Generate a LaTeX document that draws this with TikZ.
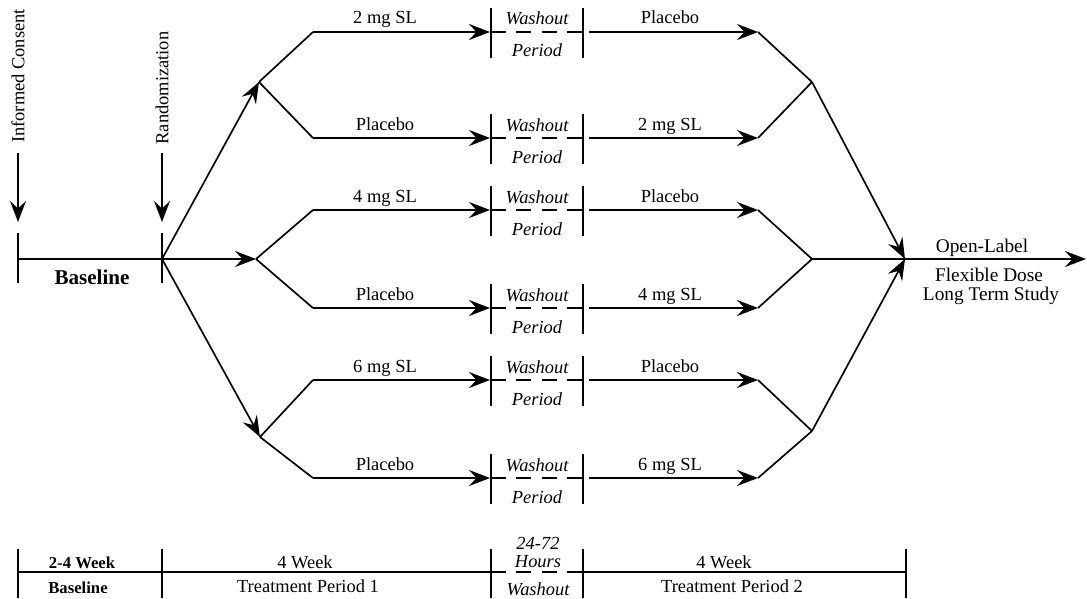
\documentclass[tikz,border=0pt]{standalone}
\usepackage{fontspec}
\setmainfont{Liberation Serif}
\usetikzlibrary{arrows.meta}

\tikzset{
  arr/.style={-{Stealth[length=4.2mm,width=3.2mm,inset=1.5mm]}},
  txt/.style={font=\fontsize{10.5}{12}\selectfont,inner sep=0pt,anchor=base},
  itxt/.style={txt,font=\fontsize{10.5}{12}\selectfont\itshape},
  btxt/.style={txt,font=\fontsize{9.5}{11}\selectfont\bfseries},
  dsh/.style={dash pattern=on 8.5pt off 6pt},
}

\begin{document}
\begin{tikzpicture}[x=0.02cm,y=-0.02cm,line width=0.95pt]
\useasboundingbox (0,0) rectangle (1087,598);

% consent and randomization markers
\node[font=\fontsize{10.5}{12}\selectfont,rotate=90,inner sep=0pt] (IC) at (18,76) {Informed Consent};
\node[font=\fontsize{10.5}{12}\selectfont,rotate=90,inner sep=0pt] (RD) at (162,88) {Randomization};
\coordinate (ICa) at (18,153);
\coordinate (ICb) at (18,222);
\coordinate (RDa) at (162,153);
\coordinate (RDb) at (162,222);
\draw[arr] (ICa) -- (ICb);
\draw[arr] (RDa) -- (RDb);

% baseline
\coordinate (S) at (18,259);
\coordinate (R) at (162,259);
\draw (18,233) -- (18,283);
\draw (162,233) -- (162,283);
\draw (S) -- (R);
\node[txt,font=\fontsize{12}{14}\selectfont\bfseries] (BL) at (92,284) {Baseline};

% randomization branches
\coordinate (B1) at (259,82);
\coordinate (B2) at (256,259);
\coordinate (B3) at (260,437);
\draw[arr] (R) -- (B1);
\draw[arr] (R) -- (B2);
\draw[arr] (R) -- (B3);

% treatment rows
\foreach \i/\y/\lft/\rgt in {1/32/2 mg SL/Placebo, 2/138/Placebo/2 mg SL,
    3/210/4 mg SL/Placebo, 4/308/Placebo/4 mg SL,
    5/380/6 mg SL/Placebo, 6/478/Placebo/6 mg SL}{
  \coordinate (s\i) at (313,\y);
  \coordinate (e\i) at (490,\y);
  \coordinate (f\i) at (589,\y);
  \coordinate (g\i) at (758,\y);
  \draw[arr] (s\i) -- (e\i);
  \draw[arr] (f\i) -- (g\i);
  \node[txt] (L\i) at (385,\y-8) {\lft};
  \node[txt] (P\i) at (670,\y-8) {\rgt};
  % washout box
  \draw (491,\y-24) -- (491,\y+26);
  \draw (583,\y-24) -- (583,\y+26);
  \draw[dsh] (491,\y) -- (583,\y);
  \node[itxt] (W\i) at (537,\y-7) {Washout};
  \node[itxt] (V\i) at (537,\y+25) {Period};
}
\draw (B1) -- (s1);
\draw (B1) -- (s2);
\draw (B2) -- (s3);
\draw (B2) -- (s4);
\draw (B3) -- (s5);
\draw (B3) -- (s6);

% merging into open-label
\coordinate (M1) at (812,82);
\coordinate (M2) at (812,259);
\coordinate (M3) at (812,431);
\coordinate (C) at (905,259);
\coordinate (E) at (1086,259);
\draw (g1) -- (M1);
\draw (g2) -- (M1);
\draw (g3) -- (M2);
\draw (g4) -- (M2);
\draw (g5) -- (M3);
\draw (g6) -- (M3);
\draw[arr] (M1) -- (C);
\draw (M2) -- (C);
\draw[arr] (M3) -- (C);
\draw[arr] (C) -- (E);
\node[txt,font=\fontsize{11}{12}\selectfont] (OL) at (982,252) {Open-Label};
\node[txt,font=\fontsize{11}{12}\selectfont] (FD) at (989,281) {Flexible Dose};
\node[txt,font=\fontsize{11}{12}\selectfont] (LT) at (991,300) {Long Term Study};

% timeline
\coordinate (T0) at (18,572);
\coordinate (T1) at (162,572);
\coordinate (T2) at (491,572);
\coordinate (T3) at (583,572);
\coordinate (T4) at (906,572);
\foreach \x in {18,162,491,583,906}
  \draw (\x,549) -- (\x,598);
\draw (T0) -- (T2);
\draw[dsh] (T2) -- (T3);
\draw (T3) -- (T4);
\node[btxt] (w0) at (82,568) {2-4 Week};
\node[btxt] (p0) at (78,593) {Baseline};
\node[txt] (w1) at (305,568) {4 Week};
\node[txt] (p1) at (308,592) {Treatment Period 1};
\node[itxt] (h1) at (538,549) {24-72};
\node[itxt] (h2) at (538,567) {Hours};
\node[itxt] (p2) at (538,595) {Washout};
\node[txt] (w3) at (724,568) {4 Week};
\node[txt] (p3) at (732,592) {Treatment Period 2};
\end{tikzpicture}
\end{document}
